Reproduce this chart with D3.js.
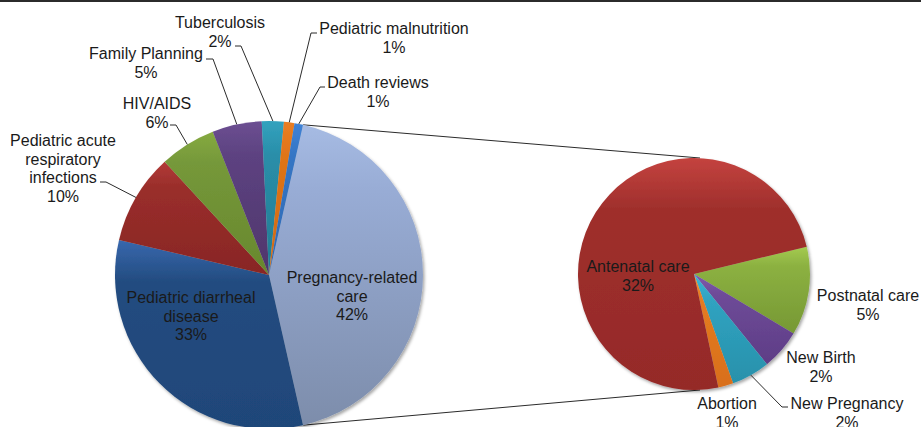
<!DOCTYPE html>
<html>
<head>
<meta charset="utf-8">
<script src="https://cdn.jsdelivr.net/npm/d3@7"></script>
<style>
  body { margin: 0; background: #fff; }
  text { font-family: "Liberation Sans", Arial, sans-serif; font-size: 16px; fill: #1a1a1a; }
</style>
</head>
<body>
<div id="chart"></div>
<script>
// primary pie (share of all sessions, %), clockwise from the split slice
var mainNames = ["Pregnancy-related care", "Pediatric diarrheal disease", "Pediatric acute respiratory infections",
                 "HIV/AIDS", "Family Planning", "Tuberculosis", "Pediatric malnutrition", "Death reviews"];
var mainValues = [42.9, 32.2, 9.5, 5.9, 5.2, 2.3, 1.1, 0.9];
var mainPct = ["42%", "33%", "10%", "6%", "5%", "2%", "1%", "1%"];

// secondary pie, breakdown of pregnancy-related care
var subNames = ["Postnatal care", "New Birth", "New Pregnancy", "Abortion", "Antenatal care"];
var subValues = [5.3, 2.4, 2.3, 0.9, 32.0];
var subPct = ["5%", "2%", "2%", "1%", "32%"];

var width = 921, height = 427;
var svg = d3.select("#chart").append("svg")
    .attr("width", width).attr("height", height);

// top border
svg.append("rect").attr("x", 0).attr("y", 0).attr("width", width).attr("height", 2).attr("fill", "#2b2b2b");

var defs = svg.append("defs");
var shadow = defs.append("filter").attr("id", "shadow").attr("x", "-10%").attr("y", "-10%").attr("width", "120%").attr("height", "120%");
shadow.append("feDropShadow").attr("dx", 1.5).attr("dy", 2).attr("stdDeviation", 1.5).attr("flood-color", "#000").attr("flood-opacity", 0.35);

// slice shading: light edge at top, then body colour, then darker bottom
var mainColors = [["#a6bbe3", "#98acd5", "#7d8dab"], ["#3868ae", "#234c80", "#1f4679"], ["#b33b37", "#9a2e2b", "#882624"],
                  ["#86aa40", "#75983a", "#68872d"], ["#6c4f92", "#5d4281", "#4f366b"], ["#32a2be", "#2a8ea9", "#227b92"],
                  ["#ea7e22", "#df7419", "#cf6a17"], ["#3f82d6", "#3575c4", "#2f69b5"]];
var subColors = [["#a4cb50", "#8cb141", "#769834"], ["#805bad", "#6e4b98", "#5e3d86"], ["#3ab8d8", "#30a3c1", "#2891ab"],
                 ["#f58e2e", "#e57b21", "#d86f1b"], ["#c4433f", "#9f2f2c", "#952a28"]];

function gradients(prefix, colors) {
    colors.forEach(function (c, i) {
        var g = defs.append("linearGradient").attr("id", prefix + i)
            .attr("x1", 0).attr("x2", 0).attr("y1", 0).attr("y2", 1);
        g.append("stop").attr("offset", "0%").attr("stop-color", c[0]);
        g.append("stop").attr("offset", "22%").attr("stop-color", c[1]);
        g.append("stop").attr("offset", "100%").attr("stop-color", c[2]);
    });
}
gradients("gm", mainColors);
gradients("gs", subColors);

var main = { cx: 269, cy: 275, r: 154 };
var sub = { cx: 694, cy: 274, r: 116 };

var deg = Math.PI / 180;
var mainTotal = d3.sum(mainValues);
var splitSpan = mainValues[0] / mainTotal * 2 * Math.PI;

// split slice centred on the right, pointing at the secondary pie
var mainPie = d3.pie().sort(null).value(function (d) { return d; })
    .startAngle(Math.PI / 2 - splitSpan / 2).endAngle(Math.PI / 2 - splitSpan / 2 + 2 * Math.PI);
var subPie = d3.pie().sort(null).value(function (d) { return d; })
    .startAngle(76.4 * deg).endAngle(76.4 * deg + 2 * Math.PI);

var mainArcs = mainPie(mainValues);
var subArcs = subPie(subValues);

function polar(p, a, r) { return [p.cx + r * Math.sin(a), p.cy - r * Math.cos(a)]; }

// connector lines between the pies
var splitArc = mainArcs[0];
svg.append("g").selectAll("line")
    .data([[polar(main, splitArc.startAngle, main.r), [sub.cx + 6, sub.cy - sub.r]],
           [polar(main, splitArc.endAngle, main.r), [sub.cx + 6, sub.cy + sub.r]]])
    .enter().append("line")
    .attr("x1", function (d) { return d[0][0]; }).attr("y1", function (d) { return d[0][1]; })
    .attr("x2", function (d) { return d[1][0]; }).attr("y2", function (d) { return d[1][1]; })
    .attr("stroke", "#2b2b2b").attr("stroke-width", 1);

var mainArc = d3.arc().innerRadius(0).outerRadius(main.r);
var subArc = d3.arc().innerRadius(0).outerRadius(sub.r);

svg.append("g").attr("transform", "translate(" + main.cx + "," + main.cy + ")")
    .attr("filter", "url(#shadow)")
    .selectAll("path").data(mainArcs).enter().append("path")
    .attr("d", mainArc)
    .attr("fill", function (d, i) { return "url(#gm" + i + ")"; });

svg.append("g").attr("transform", "translate(" + sub.cx + "," + sub.cy + ")")
    .attr("filter", "url(#shadow)")
    .selectAll("path").data(subArcs).enter().append("path")
    .attr("d", subArc)
    .attr("fill", function (d, i) { return "url(#gs" + i + ")"; });

// label layout: text lines, centre x, first baseline, optional leader start
var mainLabels = [
    { lines: ["Pregnancy-related", "care"], x: 352, y: 283 },
    { lines: ["Pediatric diarrheal", "disease"], x: 191, y: 303 },
    { lines: ["Pediatric acute", "respiratory", "infections"], x: 63, y: 146, lead: [[100, 182], [106, 182]] },
    { lines: ["HIV/AIDS"], x: 157, y: 109, lead: [[170, 125], [176, 125]] },
    { lines: ["Family Planning"], x: 146, y: 59, lead: [[206, 59], [213, 59]] },
    { lines: ["Tuberculosis"], x: 220, y: 28, lead: [[235, 46], [241, 46]] },
    { lines: ["Pediatric malnutrition"], x: 394, y: 34, lead: [[317, 33], [311, 33]] },
    { lines: ["Death reviews"], x: 378, y: 88, lead: [[325, 87], [320, 87]] }
];
var subLabels = [
    { lines: ["Postnatal care"], x: 868, y: 301 },
    { lines: ["New Birth"], x: 821, y: 363 },
    { lines: ["New Pregnancy"], x: 847, y: 409, lead: [[788, 407], [782, 407]] },
    { lines: ["Abortion"], x: 727, y: 409 },
    { lines: ["Antenatal care"], x: 638, y: 272 }
];

function drawLabels(labels, arcs, pct, p) {
    var g = svg.append("g");
    labels.forEach(function (l, i) {
        var t = g.append("text").attr("text-anchor", "middle").attr("x", l.x).attr("y", l.y);
        l.lines.concat([pct[i]]).forEach(function (s, k) {
            t.append("tspan").attr("x", l.x).attr("dy", k === 0 ? 0 : 18.5).text(s);
        });
        if (l.lead) {
            var a = arcs[i];
            var end = polar(p, (a.startAngle + a.endAngle) / 2, p.r);
            g.append("path")
                .attr("d", d3.line()([l.lead[0], l.lead[1], end]))
                .attr("fill", "none").attr("stroke", "#2b2b2b").attr("stroke-width", 1);
        }
    });
}
drawLabels(mainLabels, mainArcs, mainPct, main);
drawLabels(subLabels, subArcs, subPct, sub);
</script>
</body>
</html>
